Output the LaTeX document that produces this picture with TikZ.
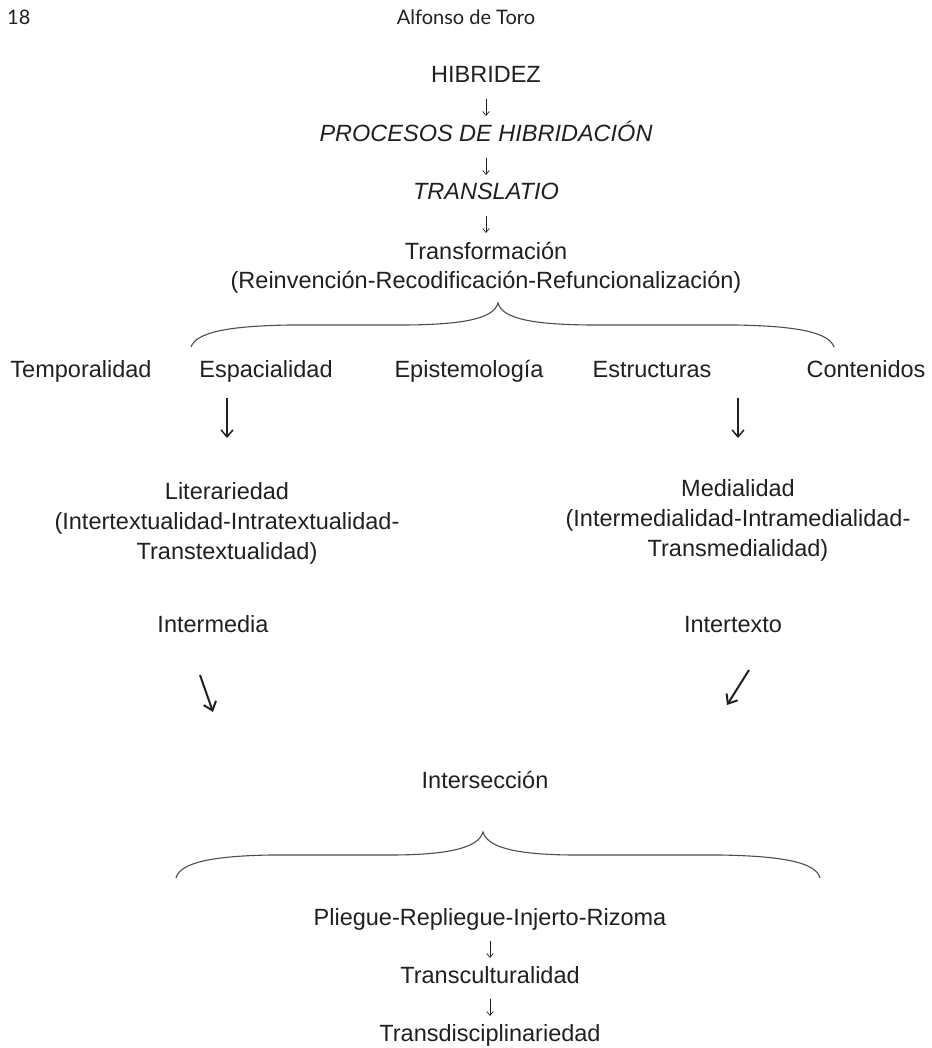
\documentclass[tikz,border=0pt]{standalone}
\usepackage{fontspec}
\setmainfont{Liberation Sans}
\newfontfamily\headfont{Lato}
\usetikzlibrary{arrows.meta}
\definecolor{ink}{HTML}{231F20}
\begin{document}
\begin{tikzpicture}[x=1pt,y=-1pt,
  txt/.style={anchor=base,inner sep=0pt,text=ink,font=\fontsize{23.5}{28}\selectfont},
  itxt/.style={anchor=base,inner sep=0pt,text=ink,font=\fontsize{23.5}{28}\selectfont\itshape},
  head/.style={anchor=base,inner sep=0pt,text=ink,font=\headfont\fontsize{20}{24}\selectfont},
  sarr/.style={draw=ink,line width=0.7pt,-{Straight Barb[length=4pt,width=6.5pt]}},
  barr/.style={draw=ink,line width=1.5pt,-{Straight Barb[length=7pt,width=12pt]}},
  darr/.style={draw=ink,line width=2pt,-{Straight Barb[length=8pt,width=13pt]}},
  bracestyle/.style={draw=ink!80,line width=1.1pt}]
\useasboundingbox (0,0) rectangle (931,1048);
% header
\node[head,anchor=base west] (pg) at (7,25) {18};
\node[head] (au) at (466,25) {Alfonso de Toro};
% top chain
\node[txt]  (hib)   at (486,83)  {HIBRIDEZ};
\node[itxt] (proc)  at (486,142) {PROCESOS DE HIBRIDACIÓN};
\node[itxt] (trl)   at (486,200) {TRANSLATIO};
\node[txt]  (trf)   at (486,260) {Transformación};
\node[txt]  (reinv) at (486,289) {(Reinvención-Recodificación-Refuncionalización)};
\draw[sarr] (hib.base)  ++(0,16) -- ++(0,17);
\draw[sarr] (proc.base) ++(0,16) -- ++(0,17);
\draw[sarr] (trl.base)  ++(0,16) -- ++(0,17);
% brace 1
\draw[bracestyle] (191,347) .. controls (196,333) and (225,326) .. (290,325) -- (400,325)
  .. controls (470,325) and (494,317) .. (498,303)
  .. controls (502,317) and (526,325) .. (596,325) -- (735,325)
  .. controls (800,326) and (829,333) .. (834,347);
% row
\node[txt] (tem) at (81,377)  {Temporalidad};
\node[txt] (esp) at (266,377) {Espacialidad};
\node[txt] (epi) at (469,377) {Epistemología};
\node[txt] (est) at (652,377) {Estructuras};
\node[txt] (con) at (866,377) {Contenidos};
% left block
\node[txt] (lit)  at (227,499) {Literariedad};
\node[txt] (lit2) at (227,529) {(Intertextualidad-Intratextualidad-};
\node[txt] (lit3) at (227,559) {Transtextualidad)};
% right block
\node[txt] (med)  at (738,496) {Medialidad};
\node[txt] (med2) at (738,526) {(Intermedialidad-Intramedialidad-};
\node[txt] (med3) at (738,556) {Transmedialidad)};
\draw[barr] (lit.base |- esp.base) ++(0,21) -- ++(0,40);
\draw[barr] (med.base |- est.base) ++(0,21) -- ++(0,40);
% intermedia / intertexto
\node[txt] (imd) at (213,632) {Intermedia};
\node[txt] (itx) at (733,632) {Intertexto};
\draw[darr] (imd.base) ++(-13,43) -- ++(13,37);
\draw[darr] (itx.base) ++(16,38) -- ++(-22,35);
% interseccion
\node[txt] (ins) at (485,788) {Intersección};
% brace 2
\draw[bracestyle] (176,878) .. controls (180,862) and (215,856) .. (270,855) -- (390,855)
  .. controls (455,855) and (479,846) .. (483,832)
  .. controls (487,846) and (511,855) .. (576,855) -- (720,855)
  .. controls (781,856) and (816,862) .. (820,878);
% bottom chain
\node[txt] (pli) at (490,925)  {Pliegue-Repliegue-Injerto-Rizoma};
\node[txt] (tcu) at (490,983)  {Transculturalidad};
\node[txt] (tdi) at (490,1041) {Transdisciplinariedad};
\draw[sarr] (pli.base) ++(0,16) -- ++(0,17);
\draw[sarr] (tcu.base) ++(0,16) -- ++(0,17);
\end{tikzpicture}
\end{document}
